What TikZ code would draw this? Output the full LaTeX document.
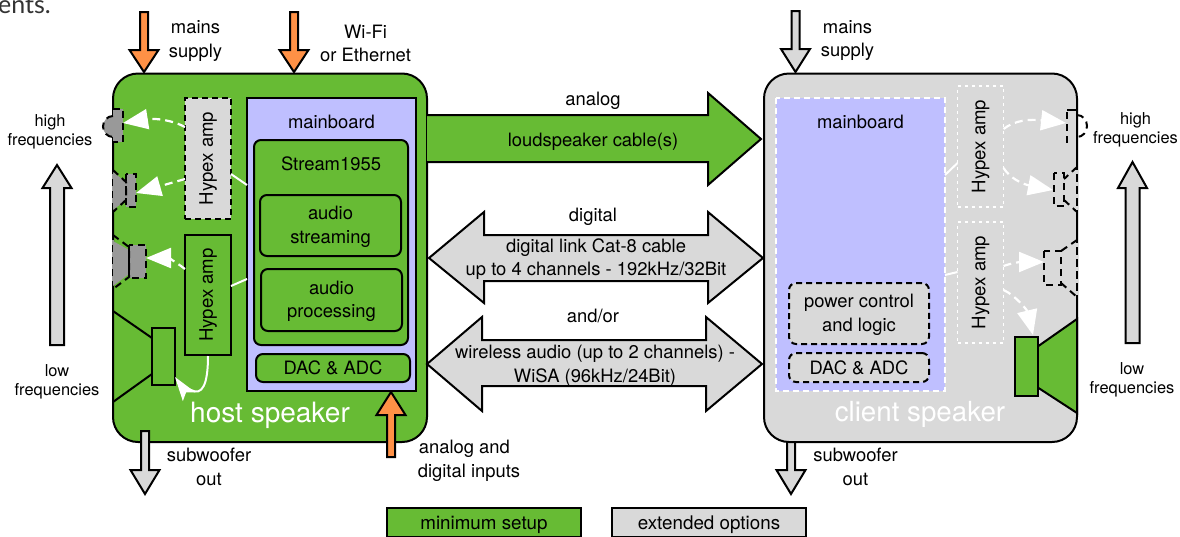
\documentclass[tikz,border=0pt]{standalone}
\usepackage{fontspec}
\usepackage{graphicx}
\setmainfont{TeX Gyre Heros}
\newfontfamily\topfont{Lato}
\usetikzlibrary{arrows.meta,calc}
\definecolor{grn}{HTML}{67BB34}
\definecolor{gry}{HTML}{D9D9D9}
\definecolor{dgr}{HTML}{999999}
\definecolor{blu}{HTML}{BFBFFF}
\definecolor{org}{HTML}{FF9146}
\newcommand{\bx}[7]{\node[#1,inner sep=0pt,outer sep=0pt,align=center,font=\fontsize{18.4}{23.5}\selectfont,minimum width={(#5-#3)*1pt},minimum height={(#6-#4)*1pt}] (#2) at ({(#3+#5)/2},{(#4+#6)/2}) {#7};}
\newcommand{\dnarrow}[7]{% style,name,cx,top,headbase,tip,halfshaft (head half 14.5)
 \draw[#1] ({#3-#7},#4) -- ({#3+#7},#4) -- ({#3+#7},#5) -- ({#3+14.5},#5) -- (#3,#6) coordinate (#2) -- ({#3-14.5},#5) -- ({#3-#7},#5) -- cycle;}
\newcommand{\hyp}{\rotatebox{90}{\fontsize{18.6}{19}\selectfont Hypex amp}}
\tikzset{
 lbl/.style={font=\fontsize{18.4}{23.5}\selectfont,align=center,inner sep=0pt},
 leg/.style={font=\fontsize{18.8}{19}\selectfont,inner sep=0pt},
 sml/.style={font=\fontsize{16.4}{19}\selectfont,align=center,inner sep=0pt},
 big/.style={line width=2pt,line join=miter,miter limit=10},
 blk/.style={draw=black,line width=2pt},
 grnbox/.style={blk,fill=grn},
 rgrn/.style={grnbox,rounded corners=7pt},
 ampdash/.style={draw=black,line width=2pt,dash pattern=on 6pt off 4pt,fill=gry},
 whdash/.style={draw=white,line width=2pt,dash pattern=on 6pt off 4pt},
 whdot/.style={draw=white,line width=1.6pt,dash pattern=on 3pt off 4pt},
 drv/.style={draw=black,line width=2pt,dash pattern=on 7pt off 5pt},
 wire/.style={draw=white,line width=2pt},
 wa/.style={draw=white,line width=2.2pt,dash pattern=on 8pt off 5pt,-{Triangle[width=20pt,length=25pt,fill=white]}},
}
\begin{document}
\begin{tikzpicture}[x=1pt,y=-1pt]
\useasboundingbox (0,0) rectangle (1180,536);
\clip (0,0) rectangle (1180,536);
\node[anchor=base west,inner sep=0pt,font=\topfont\fontsize{25}{25}\selectfont,text=black!80] (intro) at (0,13) {\kern-2pt ents.};
% host
\bx{grnbox,rounded corners=25pt}{host}{113}{73.5}{427}{442}{}
% host drivers
\fill[dgr] (113,109) rectangle (123,142);
\fill[dgr] (113,116) arc[start angle=270,end angle=90,x radius=10,y radius=10.5] -- cycle;
\draw[drv] (113,109) -- (123,109) -- (123,142) -- (113,142);
\draw[drv] (113,116) arc[start angle=270,end angle=90,x radius=10,y radius=10.5];
\bx{draw=none}{twA}{113}{109}{123}{142}{}
\fill[dgr] (113,172) -- (126,182) -- (126,200) -- (113,210) -- cycle;
\fill[dgr] (126,174) rectangle (136,207);
\draw[drv] (113,170) -- (126,182) -- (126,200) -- (113,212);
\draw[drv] (126,174) rectangle (136,207);
\draw[dgr,line width=2pt,dash pattern=on 5pt off 7pt] (113,174) -- (113,208);
\bx{draw=none}{twB}{126}{174}{136}{207}{}
\fill[dgr] (113,241) -- (129,250) -- (129,274) -- (113,286) -- cycle;
\fill[dgr] (129,245) rectangle (146,278);
\draw[drv] (113,235) -- (129,247) -- (129,277) -- (113,289);
\draw[drv] (129,245) rectangle (146,278);
\draw[dgr,line width=2pt,dash pattern=on 5pt off 7pt] (113,240) -- (113,286);
\bx{draw=none}{twC}{129}{245}{146}{278}{}
% woofer
\bx{grnbox}{wf}{152}{328}{175}{385}{}
\coordinate (cA) at (113,311); \coordinate (cB) at (113,402);
\draw[blk] (cA) -- (152,338) (cB) -- (152,374);
% amps
\bx{ampdash}{ampA}{185}{98}{231}{219}{\hyp}
\bx{grnbox}{ampB}{185}{235}{231}{355}{\hyp}
% mainboard
\bx{blk,fill=blu}{mb}{247}{98}{416}{391}{}
\node[lbl] (mbt) at (331.5,122) {mainboard};
\bx{rgrn}{st}{254}{140}{408}{345}{}
\node[lbl] (stt) at (331,164) {Stream1955};
\bx{rgrn}{as}{260}{195}{401}{256}{}
\node[lbl] (ast) at (330.5,227) {audio\\streaming};
\bx{rgrn}{ap}{261}{269}{402}{331}{}
\node[lbl] (apt) at (331.5,301.5) {audio\\processing};
\bx{rgrn}{da}{256}{354}{410}{382}{DAC \& ADC}
\node[font=\fontsize{28}{28}\selectfont,text=white,inner sep=0pt] (hs) at (270,415) {host speaker};
% wires
\draw[wire] (ampA.east |- 0,174) -- (mb.west |- 0,185);
\draw[wire] (ampB.east |- 0,286) -- (mb.west |- 0,279);
\draw[wa] (ampA.west |- 0,127) .. controls (172,120) and (155,118) .. (twA.east |- 0,123);
\draw[wa] (ampA.west |- 0,179) -- (twB.east |- 0,193);
\draw[wa] (ampB.west |- 0,269) .. controls (176,262) and (168,258) .. (twC.east |- 0,258);
\draw[white,line width=2pt,-{Stealth[width=15pt,length=24pt,fill=white,inset=5pt]}] (ampB.south |- 0,356) .. controls (208,385) and (202,396) .. (191,390) .. controls (186,388) and (180,384) .. (wf.east |- 0,377);
% top arrows
\dnarrow{big,draw=black,fill=org}{mA}{144}{12}{50}{72}{4}
\dnarrow{big,draw=black,fill=org}{mB}{294}{12}{50}{72}{4}
\dnarrow{big,draw=black,fill=org}{mI}{391}{457}{415}{392}{4}
\dnarrow{big,draw=black,fill=gry}{mS}{145}{431}{470}{494}{4}
\dnarrow{big,draw=black,fill=gry}{mC}{795.5}{11}{49}{72}{4}
\dnarrow{big,draw=black,fill=gry}{mT}{791}{431}{470}{494}{4}
\dnarrow{big,draw=black,fill=gry}{upL}{57}{345}{188}{165}{7}
\dnarrow{big,draw=black,fill=gry}{upR}{1132.5}{343}{188}{162}{7}
% labels
\node[lbl] (l1) at (195.5,41) {mains\\supply};
\node[lbl] (l2) at (365.5,43.5) {Wi-Fi\\or Ethernet};
\node[sml] (l3) at (50,131.5) {high\\frequencies};
\node[sml] (l4) at (57,381.5) {low\\frequencies};
\node[lbl] (l5) at (209,467) {subwoofer\\out};
\node[lbl,align=left] (l6) at (469,461) {\kern1pt analog and\\digital inputs};
\node[lbl] (l7) at (847.5,40.5) {mains\\supply};
\node[lbl] (l8) at (855.5,467) {subwoofer\\out};
\node[sml] (l9) at (1135.5,130) {high\\frequencies};
\node[sml] (l10) at (1132,380) {low\\frequencies};
% client
\bx{blk,fill=gry,rounded corners=25pt}{cl}{764}{73.5}{1077}{442}{}
\bx{fill=blu}{cmb}{776}{98}{945}{391}{}
\draw[whdash] (776,98) rectangle (945,391);
\node[lbl] (cmt) at (860.5,122) {mainboard};
\bx{ampdash,rounded corners=7pt}{pw}{789}{283}{929}{344}{}
\node[lbl] (pwt) at (859,315) {power control\\and logic};
\bx{ampdash,rounded corners=7pt}{cda}{789}{353}{929}{382}{DAC \& ADC}
\bx{whdot}{cA}{957.5}{86}{1003.5}{207}{\hyp}
\bx{whdot}{cB}{957.5}{222}{1003.5}{343}{\hyp}
\node[font=\fontsize{27.7}{28}\selectfont,text=white,inner sep=0pt] (cs) at (920,414) {client speaker};
% client drivers
\draw[black,line width=2pt] (1077,110) -- (1066.5,110);
\draw[drv,dash phase=-2pt] (1066.5,110) -- (1066.5,144);
\draw[drv] (1077,115) arc[start angle=-90,end angle=90,x radius=10,y radius=11];
\bx{draw=none}{ctA}{1066}{110}{1077}{144}{}
\draw[drv] (1077,167) -- (1064,179);
\draw[drv] (1064,200) -- (1077,212);
\draw[drv] (1053.5,173) rectangle (1064,206);
\draw[gry,line width=2.4pt,dash pattern=on 4pt off 8pt] (1077,170) -- (1077,210);
\bx{draw=none}{ctB}{1053}{173}{1064}{206}{}
\draw[drv] (1077,240) -- (1061,251);
\draw[drv] (1061,283) -- (1077,297);
\draw[drv] (1044,251) rectangle (1061,285);
\draw[gry,line width=2.4pt,dash pattern=on 4pt off 8pt] (1077,243) -- (1077,296);
\bx{draw=none}{ctC}{1044}{251}{1061}{285}{}
\draw[blk,fill=grn] (1037,347) -- (1077,319) -- (1077,413) -- (1037,387) -- cycle;
\bx{grnbox}{cwf}{1014.5}{337}{1037.5}{396}{}
\draw[wire] (cA.west |- 0,163) -- (cmb.east |- 0,175);
\draw[wire] (cB.west |- 0,272) -- (cmb.east |- 0,275);
\draw[wa] (cA.east |- 0,129) .. controls (1015,120) and (1030,119) .. (ctA.west |- 0,123);
\draw[wa] (cA.east |- 0,168) .. controls (1010,178) and (1022,184) .. (ctB.west |- 0,190);
\draw[wa] (cB.east |- 0,266) .. controls (1012,263) and (1020,262) .. (ctC.west |- 0,262);
\draw[wa] (cB.east |- 0,290) .. controls (1015,295) and (1027,310) .. (1033,335);
% big arrows
\draw[big,fill=grn] (427,115) -- (708,115) -- (708,93) -- (761,139) coordinate (aT) -- (708,185) -- (708,162) -- (427,162);
\node[lbl] (t1) at (593,101) {analog};
\node[lbl] (t2) at (593,142) {loudspeaker cable(s)};
\draw[big,fill=gry] (429,258) -- (484,212) -- (484,235) -- (708,235) -- (708,212) -- (763,258) -- (708,303) -- (708,281) -- (484,281) -- (484,303) -- cycle;
\node[lbl] (t3) at (593,217) {digital};
\node[lbl] (t4) at (596,259) {digital link Cat-8 cable\\up to 4 channels - 192kHz/32Bit};
\draw[big,fill=gry] (427,364) -- (482,317) -- (482,340) -- (706,340) -- (706,317) -- (762,364) -- (706,411) -- (706,386) -- (482,386) -- (482,411) -- cycle;
\node[lbl] (t5) at (593,316) {and/or};
\node[lbl] (t6) at (595,365.5) {wireless audio (up to 2 channels) -\\WiSA (96kHz/24Bit)};
% legend
\bx{grnbox}{lgA}{387}{508}{581}{537}{}
\node[leg] (lgAt) at (484,524.5) {minimum setup};
\bx{blk,fill=gry}{lgB}{612}{508}{806}{537}{}
\node[leg] (lgBt) at (709,524.5) {extended options};
\end{tikzpicture}
\end{document}
